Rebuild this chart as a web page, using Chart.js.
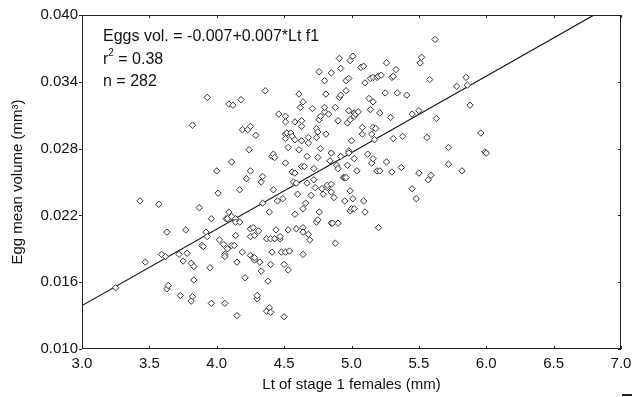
<!DOCTYPE html>
<html>
<head>
<meta charset="utf-8">
<script src="https://cdn.jsdelivr.net/npm/chart.js@4"></script>
<style>
  html, body { margin: 0; padding: 0; background: #fff; }
</style>
</head>
<body>
<canvas id="eggChart" width="644" height="397"></canvas>
<script>
// Lt of stage 1 females (mm)
const lengthMm = [
    3.25, 3.43, 3.47, 3.57, 3.59, 3.62, 3.63, 3.63, 3.64, 3.73, 3.72, 3.75, 3.77, 3.78, 3.82, 3.81, 3.82, 3.81, 3.83, 3.83,
    3.87, 3.89, 3.90, 3.92, 3.93, 3.93, 3.95, 3.96, 3.96, 4.00, 4.01, 4.02, 4.05, 4.06, 4.06, 4.06, 4.07, 4.08, 4.09, 4.08,
    4.09, 4.11, 4.11, 4.11, 4.12, 4.13, 4.14, 4.14, 4.14, 4.15, 4.15, 4.17, 4.17, 4.18, 4.19, 4.19, 4.21, 4.22, 4.23, 4.24,
    4.25, 4.25, 4.25, 4.25, 4.25, 4.27, 4.27, 4.28, 4.28, 4.28, 4.29, 4.30, 4.30, 4.31, 4.32, 4.33, 4.33, 4.34, 4.34, 4.36,
    4.37, 4.38, 4.37, 4.39, 4.39, 4.40, 4.40, 4.40, 4.41, 4.41, 4.42, 4.42, 4.43, 4.43, 4.44, 4.45, 4.46, 4.47, 4.47, 4.48,
    4.49, 4.50, 4.50, 4.51, 4.51, 4.51, 4.51, 4.51, 4.51, 4.52, 4.53, 4.53, 4.53, 4.54, 4.55, 4.56, 4.56, 4.57, 4.58, 4.58,
    4.58, 4.58, 4.59, 4.59, 4.60, 4.61, 4.61, 4.62, 4.63, 4.63, 4.63, 4.63, 4.64, 4.64, 4.64, 4.64, 4.64, 4.65, 4.66, 4.67,
    4.67, 4.68, 4.68, 4.68, 4.69, 4.70, 4.71, 4.72, 4.72, 4.73, 4.74, 4.74, 4.74, 4.75, 4.75, 4.75, 4.76, 4.76, 4.76, 4.77,
    4.77, 4.78, 4.79, 4.80, 4.80, 4.80, 4.81, 4.81, 4.82, 4.82, 4.83, 4.84, 4.85, 4.85, 4.85, 4.85, 4.85, 4.86, 4.87, 4.88,
    4.88, 4.89, 4.90, 4.90, 4.90, 4.91, 4.91, 4.92, 4.92, 4.92, 4.94, 4.95, 4.95, 4.96, 4.96, 4.96, 4.97, 4.97, 4.98, 4.98,
    4.98, 4.98, 4.99, 4.99, 4.99, 4.99, 5.00, 5.00, 5.01, 5.01, 5.02, 5.02, 5.02, 5.02, 5.03, 5.04, 5.05, 5.07, 5.08, 5.08,
    5.09, 5.09, 5.10, 5.10, 5.12, 5.13, 5.14, 5.14, 5.15, 5.15, 5.16, 5.16, 5.16, 5.16, 5.17, 5.18, 5.19, 5.19, 5.20, 5.20,
    5.21, 5.21, 5.22, 5.25, 5.26, 5.26, 5.29, 5.30, 5.30, 5.31, 5.31, 5.33, 5.34, 5.37, 5.38, 5.41, 5.45, 5.45, 5.48, 5.50,
    5.50, 5.51, 5.52, 5.56, 5.57, 5.58, 5.59, 5.62, 5.63, 5.72, 5.72, 5.78, 5.82, 5.85, 5.86, 5.88, 5.96, 5.99, 6.00
];

// egg mean volume (mm3), same order as lengthMm
const eggVolume = [
    0.0155, 0.0233, 0.0178, 0.0230, 0.0185, 0.0183, 0.0205, 0.0154, 0.0157, 0.0148, 0.0185, 0.0179, 0.0207, 0.0186, 0.0301, 0.0177, 0.0147, 0.0143, 0.0174, 0.0162,
    0.0227, 0.0193, 0.0192, 0.0205, 0.0201, 0.0326, 0.0173, 0.0217, 0.0141, 0.0260, 0.0240, 0.0198, 0.0194, 0.0185, 0.0183, 0.0141, 0.0217, 0.0217, 0.0223, 0.0190,
    0.0320, 0.0193, 0.0268, 0.0219, 0.0319, 0.0193, 0.0217, 0.0214, 0.0202, 0.0178, 0.0130, 0.0214, 0.0243, 0.0324, 0.0297, 0.0187, 0.0164, 0.0253, 0.0297, 0.0279,
    0.0208, 0.0260, 0.0300, 0.0201, 0.0184, 0.0182, 0.0209, 0.0180, 0.0182, 0.0202, 0.0292, 0.0145, 0.0148, 0.0206, 0.0178, 0.0250, 0.0170, 0.0255, 0.0231, 0.0332,
    0.0199, 0.0161, 0.0134, 0.0137, 0.0223, 0.0133, 0.0176, 0.0199, 0.0187, 0.0273, 0.0243, 0.0275, 0.0272, 0.0199, 0.0207, 0.0233, 0.0311, 0.0199, 0.0201, 0.0187,
    0.0235, 0.0176, 0.0129, 0.0187, 0.0309, 0.0304, 0.0267, 0.0293, 0.0289, 0.0294, 0.0281, 0.0207, 0.0171, 0.0188, 0.0294, 0.0259, 0.0291, 0.0250, 0.0288, 0.0304,
    0.0221, 0.0258, 0.0249, 0.0208, 0.0239, 0.0279, 0.0329, 0.0317, 0.0264, 0.0300, 0.0305, 0.0287, 0.0322, 0.0209, 0.0205, 0.0185, 0.0226, 0.0264, 0.0231, 0.0249,
    0.0273, 0.0290, 0.0285, 0.0203, 0.0198, 0.0238, 0.0316, 0.0252, 0.0262, 0.0245, 0.0214, 0.0298, 0.0290, 0.0295, 0.0216, 0.0272, 0.0223, 0.0306, 0.0349, 0.0280,
    0.0309, 0.0244, 0.0239, 0.0341, 0.0313, 0.0317, 0.0329, 0.0293, 0.0245, 0.0247, 0.0311, 0.0269, 0.0348, 0.0276, 0.0213, 0.0248, 0.0241, 0.0213, 0.0236, 0.0317,
    0.0195, 0.0265, 0.0305, 0.0213, 0.0262, 0.0361, 0.0326, 0.0273, 0.0352, 0.0328, 0.0254, 0.0254, 0.0233, 0.0332, 0.0341, 0.0254, 0.0303, 0.0265, 0.0343, 0.0278,
    0.0314, 0.0276, 0.0224, 0.0242, 0.0359, 0.0306, 0.0226, 0.0287, 0.0363, 0.0235, 0.0312, 0.0226, 0.0271, 0.0309, 0.0311, 0.0260, 0.0313, 0.0353, 0.0293, 0.0299,
    0.0354, 0.0233, 0.0223, 0.0339, 0.0275, 0.0325, 0.0315, 0.0343, 0.0293, 0.0267, 0.0322, 0.0271, 0.0344, 0.0299, 0.0288, 0.0298, 0.0344, 0.0260, 0.0209, 0.0345,
    0.0312, 0.0260, 0.0346, 0.0330, 0.0357, 0.0268, 0.0308, 0.0344, 0.0259, 0.0289, 0.0345, 0.0351, 0.0330, 0.0263, 0.0291, 0.0328, 0.0311, 0.0244, 0.0235, 0.0258,
    0.0314, 0.0357, 0.0362, 0.0290, 0.0252, 0.0342, 0.0256, 0.0378, 0.0307, 0.0281, 0.0266, 0.0336, 0.0260, 0.0344, 0.0337, 0.0319, 0.0294, 0.0277, 0.0276
];

// fitted line end points
const fitX = [3.0, 6.8];
const fitY = [0.0139, 0.0400];

const xTicks = [3.0, 3.5, 4.0, 4.5, 5.0, 5.5, 6.0, 6.5, 7.0];
const yTicks = [0.010, 0.016, 0.022, 0.028, 0.034, 0.040];

const annotationLines = ['Eggs vol. = -0.007+0.007*Lt f1', 'r', '2', ' = 0.38', 'n = 282'];

const FONT = '"Liberation Sans", Arial, sans-serif';

const framePlugin = {
    id: 'frame',
    afterDraw(chart) {
        const ctx = chart.ctx;
        const a = chart.chartArea;
        const xs = chart.scales.x, ys = chart.scales.y;
        ctx.save();
        ctx.strokeStyle = '#222';
        ctx.lineWidth = 1;
        ctx.strokeRect(a.left + 0.5, a.top + 0.5, a.right - a.left - 1, a.bottom - a.top - 1);

        ctx.beginPath();
        xTicks.forEach(v => {
            const px = Math.round(xs.getPixelForValue(v)) + 0.5;
            ctx.moveTo(px, a.bottom); ctx.lineTo(px, a.bottom - 3);
            ctx.moveTo(px, a.top); ctx.lineTo(px, a.top + 3);
        });
        yTicks.forEach(v => {
            const py = Math.round(ys.getPixelForValue(v)) + 0.5;
            ctx.moveTo(a.left, py); ctx.lineTo(a.left - 3, py);
            ctx.moveTo(a.right, py); ctx.lineTo(a.right - 3, py);
        });
        ctx.stroke();

        // little mark under the bottom right corner
        ctx.lineWidth = 2;
        ctx.beginPath();
        ctx.moveTo(622, 395); ctx.lineTo(632, 395);
        ctx.stroke();

        // equation and stats text
        ctx.fillStyle = '#111';
        ctx.textBaseline = 'alphabetic';
        ctx.font = '16px ' + FONT;
        const tx = a.left + 21;
        ctx.fillText(annotationLines[0], tx, 41);
        ctx.fillText(annotationLines[1], tx, 64);
        const rw = ctx.measureText(annotationLines[1]).width;
        ctx.font = '10px ' + FONT;
        ctx.fillText(annotationLines[2], tx + rw, 56);
        const sw = ctx.measureText(annotationLines[2]).width;
        ctx.font = '16px ' + FONT;
        ctx.fillText(annotationLines[3], tx + rw + sw, 64);
        ctx.fillText(annotationLines[4], tx, 86);
        ctx.restore();
    }
};

new Chart(document.getElementById('eggChart'), {
    type: 'scatter',
    data: {
        datasets: [{
            label: 'Eggs',
            data: lengthMm.map((x, i) => ({ x: x, y: eggVolume[i] })),
            pointStyle: 'rectRot',
            pointRadius: 3.2,
            borderColor: '#333',
            backgroundColor: '#fff',
            borderWidth: 1,
            order: 1
        }, {
            type: 'line',
            label: 'Fit',
            data: fitX.map((x, i) => ({ x: x, y: fitY[i] })),
            borderColor: '#111',
            borderWidth: 1.2,
            pointRadius: 0,
            fill: false,
            order: 2
        }]
    },
    options: {
        responsive: false,
        animation: false,
        layout: { padding: { left: 0, top: 15, right: 23, bottom: 0 } },
        plugins: {
            legend: { display: false },
            tooltip: { enabled: false }
        },
        scales: {
            x: {
                type: 'linear',
                min: 3, max: 7,
                afterBuildTicks: s => { s.ticks = xTicks.map(v => ({ value: v })); },
                afterFit: s => { s.height = 48; },
                grid: { display: false, drawTicks: false },
                border: { display: false },
                ticks: {
                    padding: 6,
                    color: '#111',
                    font: { family: FONT, size: 15 },
                    callback: v => Number(v).toFixed(1),
                    maxRotation: 0
                },
                title: {
                    display: true,
                    text: 'Lt of stage 1 females (mm)',
                    color: '#111',
                    font: { family: FONT, size: 15 },
                    padding: { top: 0, bottom: 3 }
                }
            },
            y: {
                type: 'linear',
                min: 0.010, max: 0.040,
                afterBuildTicks: s => { s.ticks = yTicks.map(v => ({ value: v })); },
                afterFit: s => { s.width = 82; },
                grid: { display: false, drawTicks: false },
                border: { display: false },
                ticks: {
                    padding: 4,
                    color: '#111',
                    font: { family: FONT, size: 15 },
                    callback: v => Number(v).toFixed(3)
                },
                title: {
                    display: true,
                    text: 'Egg mean volume (mm³)',
                    color: '#111',
                    font: { family: FONT, size: 15 },
                    padding: { top: 9, bottom: 0 }
                }
            }
        }
    },
    plugins: [framePlugin]
});
</script>
</body>
</html>
